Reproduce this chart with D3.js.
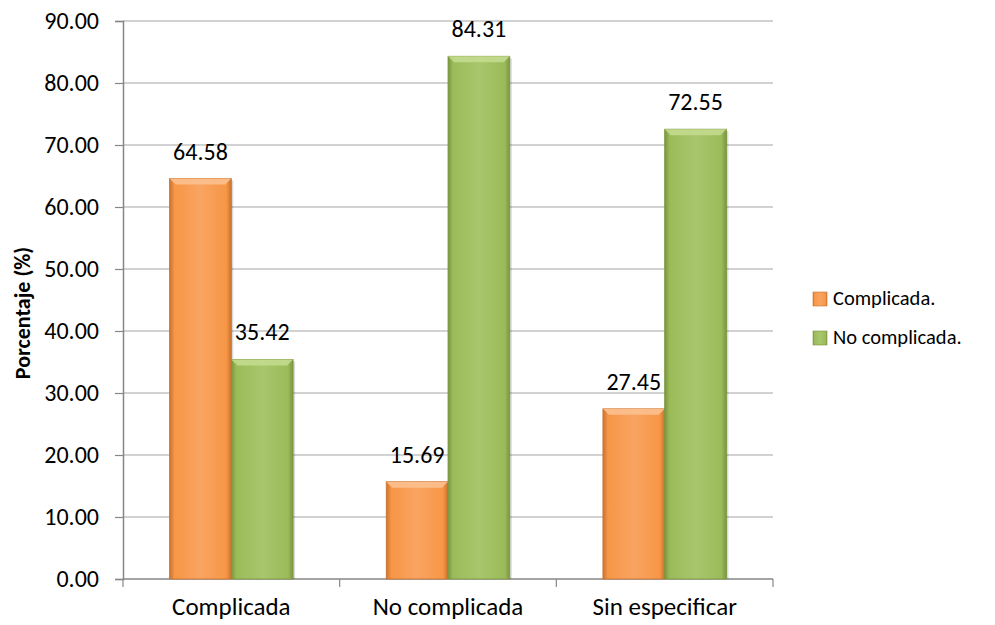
<!DOCTYPE html>
<html><head><meta charset="utf-8">
<script src="https://cdn.jsdelivr.net/npm/d3@7"></script>
<style>body{margin:0;background:#fff}svg{display:block}text{font-family:Carlito,Lato,"Open Sans",sans-serif}</style>
</head><body>
<script>
const categories = ["Complicada", "No complicada", "Sin especificar"];
const seriesNames = ["Complicada.", "No complicada."];
const complicada = [64.58, 15.69, 27.45];
const noComplicada = [35.42, 84.31, 72.55];
const yTicks = [0, 10, 20, 30, 40, 50, 60, 70, 80, 90];
const yTitle = "Porcentaje (%)";

const W = 995, H = 625;
const m = {left: 123, right: 222, top: 21, bottom: 46};
const FS = 24;
const svg = d3.select("body").append("svg").attr("width", W).attr("height", H);
const defs = svg.append("defs");
const colors = [
  {base: "#F79646", light: "#F9A462", dark: "#C9722F", top: "#FBC08F"},
  {base: "#9BBB59", light: "#A8C66C", dark: "#7A963F", top: "#C3DA8E"}
];
colors.forEach((c, i) => {
  const g = defs.append("linearGradient").attr("id", "g" + i).attr("x1", 0).attr("x2", 1).attr("y1", 0).attr("y2", 0);
  g.append("stop").attr("offset", "0%").attr("stop-color", c.dark);
  g.append("stop").attr("offset", "8%").attr("stop-color", c.base);
  g.append("stop").attr("offset", "50%").attr("stop-color", c.light);
  g.append("stop").attr("offset", "92%").attr("stop-color", c.base);
  g.append("stop").attr("offset", "100%").attr("stop-color", c.dark);
});

const x0 = d3.scaleBand().domain(categories).range([m.left, W - m.right]).paddingInner(0.43).paddingOuter(0.215);
const x1 = d3.scaleBand().domain(seriesNames).range([0, x0.bandwidth()]);
const y = d3.scaleLinear().domain([0, 90]).range([H - m.bottom, m.top]);

// gridlines
svg.append("g").selectAll("line").data(yTicks.filter(t => t > 0)).join("line")
  .attr("x1", m.left).attr("x2", W - m.right)
  .attr("y1", d => y(d)).attr("y2", d => y(d))
  .attr("stroke", "#a6a6a6").attr("stroke-width", 1.2);

// y axis
const ya = svg.append("g").attr("transform", `translate(${m.left},0)`)
  .call(d3.axisLeft(y).tickValues(yTicks).tickFormat(d3.format(".2f")).tickSize(8).tickPadding(16));
ya.select(".domain").attr("stroke", "#868686").attr("stroke-width", 1.5);
ya.selectAll(".tick line").attr("stroke", "#868686").attr("stroke-width", 1.2);
ya.selectAll("text").attr("font-size", FS).attr("fill", "#000").style("font-family", "Carlito,Lato,'Open Sans',sans-serif");

// x axis
const catEdges = [m.left, ...categories.slice(1).map(c => x0(c) - x0.step() * x0.paddingInner() / 2), W - m.right];
svg.append("line").attr("x1", m.left).attr("x2", W - m.right).attr("y1", y(0)).attr("y2", y(0))
  .attr("stroke", "#868686").attr("stroke-width", 1.5);
svg.append("g").selectAll("line").data(catEdges).join("line")
  .attr("x1", d => d).attr("x2", d => d).attr("y1", y(0)).attr("y2", y(0) + 8)
  .attr("stroke", "#868686").attr("stroke-width", 1.2);
svg.append("g").selectAll("text").data(categories).join("text")
  .attr("x", d => x0(d) + x0.bandwidth() / 2).attr("y", y(0) + 36)
  .attr("text-anchor", "middle").attr("font-size", 25).text(d => d);

// bars
const data = categories.map((c, i) => ({cat: c, vals: [complicada[i], noComplicada[i]]}));
const groups = svg.append("g").selectAll("g").data(data).join("g")
  .attr("transform", d => `translate(${x0(d.cat)},0)`);
groups.each(function(d) {
  const g = d3.select(this);
  d.vals.forEach((v, si) => {
    const bx = x1(seriesNames[si]), bw = x1.bandwidth(), by = y(v), bh = y(0) - y(v);
    const c = colors[si];
    g.append("rect").attr("x", bx + 2).attr("y", by + 2).attr("width", bw).attr("height", bh - 2)
      .attr("fill", "#000").attr("opacity", 0.15);
    g.append("rect").attr("x", bx).attr("y", by).attr("width", bw).attr("height", bh)
      .attr("fill", `url(#g${si})`).attr("stroke", c.dark).attr("stroke-width", 0.8);
    const bv = 6;
    g.append("path").attr("d", `M${bx},${by}L${bx + bw},${by}L${bx + bw - bv},${by + bv}L${bx + bv},${by + bv}Z`)
      .attr("fill", c.top).attr("opacity", 0.9);
    g.append("text").attr("x", bx + bw / 2).attr("y", by - 19)
      .attr("text-anchor", "middle").attr("font-size", FS).text(d3.format(".2f")(v));
  });
});

// y title
svg.append("text").attr("transform", `translate(30,313) rotate(-90)`)
  .attr("text-anchor", "middle").attr("font-size", 22).attr("font-weight", "bold").text(yTitle);

// legend
const lg = svg.append("g").selectAll("g").data(seriesNames).join("g")
  .attr("transform", (d, i) => `translate(813,${298 + i * 39})`);
lg.append("rect").attr("x", 0).attr("y", -6).attr("width", 14).attr("height", 14)
  .attr("fill", (d, i) => `url(#g${i})`).attr("stroke", (d, i) => colors[i].dark).attr("stroke-width", 0.6);
lg.append("text").attr("x", 20).attr("y", 7).attr("font-size", 20.5).text(d => d);
</script>
</body></html>
